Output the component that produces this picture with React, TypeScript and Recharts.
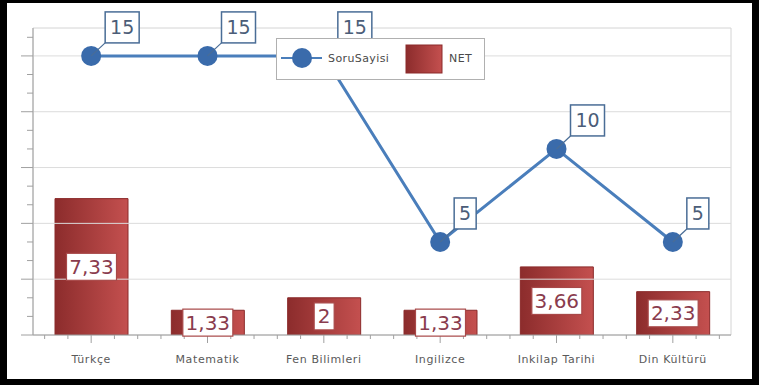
import React from "react";
import {
  ComposedChart,
  Bar,
  Line,
  XAxis,
  YAxis,
  ReferenceLine,
  ReferenceArea,
  LabelList,
} from "recharts";

const categories = ["Türkçe", "Matematik", "Fen Bilimleri", "Ingilizce", "Inkilap Tarihi", "Din Kültürü"];
const soruSayisi = [15, 15, 15, 5, 10, 5];
const netValues = [7.33, 1.33, 2, 1.33, 3.66, 2.33];
const yTicks = [0, 1, 2, 3, 4, 5, 6, 7, 8, 9, 10, 11, 12, 13, 14, 15, 16];
const gridValues = [3, 6, 9, 12, 15];

const data = categories.map((c, i) => ({ category: c, soru: soruSayisi[i], net: netValues[i] }));

const W = 759;
const H = 385;
const M = { top: 28, right: 28, bottom: 0, left: 0 };
const Y_W = 33;
const X_H = 50;
const PLOT_W = W - M.left - M.right - Y_W;
const BAND = PLOT_W / categories.length;

const FONT = "'DejaVu Sans', Verdana, sans-serif";
const fmt = (v: number) => String(v).replace(".", ",");

const YTick = (props: any) => {
  const { x, y, payload } = props;
  const major = payload.value % 3 === 0;
  return <line x1={x - (major ? 12 : 6)} x2={x} y1={y} y2={y} stroke="#a0a0a0" strokeWidth={1} />;
};

const XTick = (props: any) => {
  const { x, y, payload } = props;
  const minors = [-2, -1, 1, 2].map((k) => x + (k * BAND) / 5);
  return (
    <g>
      <line x1={x} x2={x} y1={y} y2={y + 8} stroke="#a0a0a0" />
      {minors.map((mx, i) => (
        <line key={i} x1={mx} x2={mx} y1={y} y2={y + 4} stroke="#a0a0a0" />
      ))}
      <text
        x={x}
        y={y + 28}
        textAnchor="middle"
        fontFamily={FONT}
        fontSize={11}
        letterSpacing={0.6}
        fill="#5a5a5a"
      >
        {payload.value}
      </text>
    </g>
  );
};

const BarLabel = (props: any) => {
  const { x, y, width, height, value } = props;
  const s = fmt(value);
  const digits = s.replace(",", "").length;
  const commas = s.length - digits;
  const bw = digits * 12 + commas * 6 + 8;
  const bh = 27;
  const cx = x + width / 2;
  const cy = y + height / 2;
  return (
    <g>
      <rect x={cx - bw / 2} y={cy - bh / 2} width={bw} height={bh} fill="#ffffff" stroke="#a84848" strokeWidth={1.2} />
      <text x={cx} y={cy + 7} textAnchor="middle" fontFamily={FONT} fontSize={20} fill="#8a3c4e">
        {s}
      </text>
    </g>
  );
};

const LineLabel = (props: any) => {
  const { x, y, value } = props;
  const s = String(value);
  const bw = s.length * 12 + 10;
  const bh = 31;
  const bx = x + 14;
  const by = y - 13 - bh;
  return (
    <g>
      <line x1={x} y1={y} x2={bx} y2={y - 13} stroke="#4a6d96" strokeWidth={1.2} />
      <rect x={bx} y={by} width={bw} height={bh} fill="#ffffff" stroke="#4a6d96" strokeWidth={1.5} />
      <text x={bx + bw / 2} y={by + bh / 2 + 7} textAnchor="middle" fontFamily={FONT} fontSize={19} fill="#4b5d78">
        {s}
      </text>
    </g>
  );
};

const Legend = () => (
  <div
    style={{
      position: "absolute",
      left: 276,
      top: 38,
      width: 209,
      height: 42,
      boxSizing: "border-box",
      border: "1px solid #b0b0b0",
      background: "#ffffff",
    }}
  >
    <svg width={207} height={40} style={{ display: "block" }}>
      <defs>
        <linearGradient id="legGrad" x1="0" y1="0" x2="1" y2="0">
          <stop offset="0%" stopColor="#8c2c2c" />
          <stop offset="100%" stopColor="#c4504f" />
        </linearGradient>
      </defs>
      <line x1={4} x2={45} y1={19} y2={19} stroke="#4a7ebb" strokeWidth={2} />
      <circle cx={25} cy={19} r={10} fill="#3a6bab" />
      <text x={51} y={23} fontFamily={FONT} fontSize={11} letterSpacing={0.4} fill="#4a4a4a">
        SoruSayisi
      </text>
      <rect x={129} y={6} width={36} height={28} fill="url(#legGrad)" stroke="#8b2a2a" />
      <text x={172} y={23} fontFamily={FONT} fontSize={11} letterSpacing={0.4} fill="#4a4a4a">
        NET
      </text>
    </svg>
  </div>
);

export default function App() {
  return (
    <div style={{ position: "absolute", left: 0, top: 0, width: W, height: H, background: "#000000" }}>
      <div style={{ position: "absolute", left: 7, top: 3, width: W - 14, height: H - 9, background: "#ffffff" }} />
      <div style={{ position: "absolute", left: 0, top: 0 }}>
        <ComposedChart width={W} height={H} data={data} margin={M}>
          <defs>
            <linearGradient id="barGrad" x1="0" y1="0" x2="1" y2="0">
              <stop offset="0%" stopColor="#8c2c2c" />
              <stop offset="100%" stopColor="#c4504f" />
            </linearGradient>
          </defs>
          <ReferenceArea y1={0} y2={16.5} fill="none" stroke="#d4d4d4" ifOverflow="extendDomain" />
          {gridValues.map((v) => (
            <ReferenceLine key={v} y={v} stroke="#dcdcdc" strokeWidth={1} />
          ))}
          <XAxis
            dataKey="category"
            height={X_H}
            tickLine={false}
            tickSize={0}
            tickMargin={0}
            axisLine={{ stroke: "#a0a0a0" }}
            tick={XTick}
            interval={0}
          />
          <YAxis
            type="number"
            width={Y_W}
            domain={[0, 16.5]}
            ticks={yTicks}
            interval={0}
            tickLine={false}
            tickSize={0}
            tickMargin={0}
            axisLine={{ stroke: "#a0a0a0" }}
            tick={YTick}
            allowDataOverflow
          />
          <Bar dataKey="net" barSize={73} fill="url(#barGrad)" stroke="#8b2a2a" strokeWidth={1} isAnimationActive={false}>
            <LabelList dataKey="net" content={BarLabel} />
          </Bar>
          <Line
            dataKey="soru"
            stroke="#4a7ebb"
            strokeWidth={3}
            dot={{ r: 10, fill: "#3a6bab", stroke: "none" }}
            activeDot={false}
            isAnimationActive={false}
          >
            <LabelList dataKey="soru" content={LineLabel} />
          </Line>
        </ComposedChart>
      </div>
      <Legend />
    </div>
  );
}
